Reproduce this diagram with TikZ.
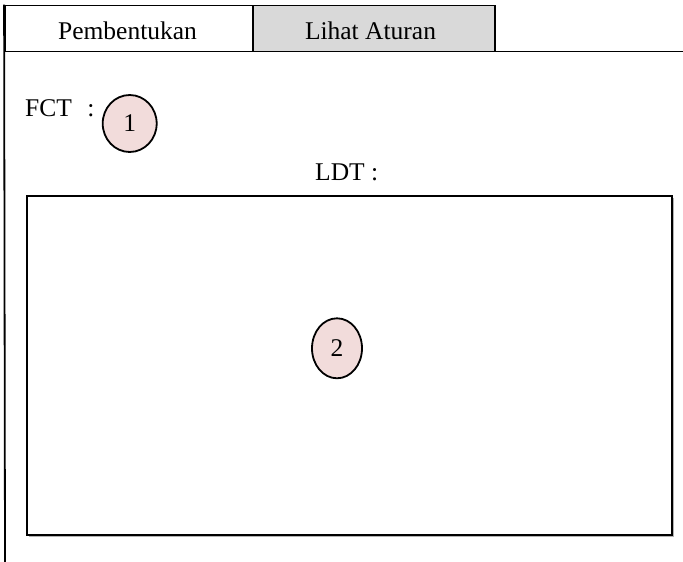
\documentclass[tikz,border=0pt]{standalone}
\usepackage{fontspec}
\setmainfont{Liberation Serif}
\usetikzlibrary{shapes.geometric}
\definecolor{tabgray}{HTML}{D9D9D9}
\definecolor{pinkfill}{HTML}{F2DCDB}
\tikzset{
  line/.style={line width=1.8pt, draw=black},
  txt/.style={font=\fontsize{25.5}{30}\selectfont},
  tabbox/.style={line, txt, rectangle, inner sep=0pt, minimum height=46pt, text height=21pt, text depth=0pt},
  lbl/.style={txt, inner sep=0pt},
  marker/.style={line, txt, ellipse, fill=pinkfill, inner sep=0pt},
}
\begin{document}
\begin{tikzpicture}[x=1pt,y=-1pt]
\useasboundingbox (0,0) rectangle (683,562);
% tabs
\node[tabbox, fill=white, minimum width=248pt] (tab1) at (129,28.5) {\hspace*{-3pt}Pembentukan};
\node[tabbox, fill=tabgray, minimum width=242pt] (tab2) at (374,28.5) {\hspace*{-7pt}Lihat Aturan};
% frame lines
\coordinate (tl) at (5,51.5);
\coordinate (tr) at (683,51.5);
\coordinate (bl) at (5,562);
\draw[line] (tl) -- (tr);
\draw[line] (tab1.north west) -- (bl);
% FCT
\node[lbl, anchor=base west] (fct) at (25,116.5) {FCT};
\node[lbl, anchor=base] (fctcolon) at (91,116.5) {:};
\node[marker, minimum width=54pt, minimum height=57pt] (m1) at (129.7,123.5) {1};
% LDT
\node[lbl, anchor=base west] (ldt) at (315,180) {LDT :};
% box with shadow
\fill[gray!60] (29,198) rectangle (674,537);
\node[line, rectangle, fill=white, minimum width=645pt, minimum height=339pt, inner sep=0pt] (box) at (349.5,365.5) {};
\node[marker, minimum width=50pt, minimum height=60pt] (m2) at (337,348.3) {2};
\end{tikzpicture}
\end{document}
